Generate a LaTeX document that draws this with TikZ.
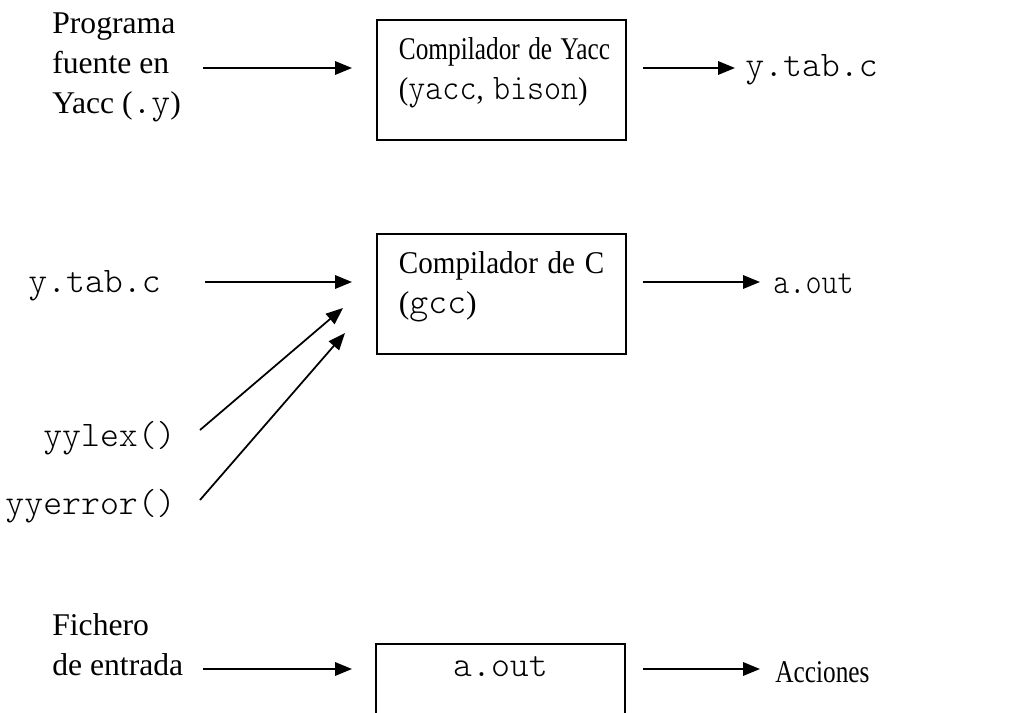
\documentclass[tikz,border=0pt]{standalone}
\usepackage{fontspec}
\setmainfont{Liberation Serif}
\newfontfamily\codfont{Latin Modern Mono Light}
\usetikzlibrary{arrows.meta}

% texto estrechado en horizontal
\newcommand{\estrecho}[2]{\scalebox{#1}[1]{#2}}
% codigo en maquina de escribir, con el ancho de Courier
\newcommand{\cod}[1]{{\fontsize{20.5}{22.76}\selectfont\codfont #1}}

\tikzset{
  every node/.style={font=\fontsize{18}{22.76}\selectfont},
  txt/.style={inner sep=0pt, align=left},
  box/.style={draw, line width=1.1pt, inner xsep=0.44cm, inner ysep=0pt,
    text width=4.1cm, minimum width=4.98cm, text height=0.8cm,
    text depth=1.6cm, align=left},
  binbox/.style={draw, line width=1.1pt, inner sep=0pt, text width=4.98cm,
    text height=0.66cm, text depth=2cm, align=center},
  arr/.style={-{Triangle[length=0.34cm,width=0.27cm]}, line width=1pt},
}

\begin{document}
\begin{tikzpicture}[x=0.02cm, y=-0.02cm]
\useasboundingbox (0,0) rectangle (1024,713);
\clip (0,0) rectangle (1024,713);

% Yacc
\node[txt, anchor=west] (fuente) at (52,67) {Programa\\fuente en\\Yacc (\cod{.y})};
\node[box, anchor=north west] (yacc) at (376,19)
  {\estrecho{0.8}{Compilador de Yacc}\\\estrecho{0.9}{(\cod{yacc}, \cod{bison})}};
\node[txt, anchor=west] (tabA) at (745,70) {\cod{y.tab.c}};

\coordinate (fuenteE) at (203,68);
\coordinate (yaccW) at (352,68);
\coordinate (yaccE) at (643,68);
\coordinate (tabAW) at (735,68);
\draw[arr] (fuenteE) -- (yaccW);
\draw[arr] (yaccE) -- (tabAW);

% C
\node[txt, anchor=west] (tabB) at (28,286) {\cod{y.tab.c}};
\node[txt, anchor=east] (lex) at (176,438) {\cod{yylex()}};
\node[txt, anchor=east] (err) at (176,506) {\cod{yyerror()}};
\node[box, anchor=north west] (gcc) at (376,233)
  {\estrecho{0.92}{Compilador de C}\\(\cod{gcc})};
\node[txt, anchor=west] (aoutA) at (773,284) {\estrecho{0.85}{\cod{a.out}}};

\coordinate (tabBE) at (205,282);
\coordinate (gccW) at (352,282);
\coordinate (lexE) at (200,430);
\coordinate (lexT) at (343,308);
\coordinate (errE) at (200,500);
\coordinate (errT) at (345,333);
\coordinate (gccE) at (643,282);
\coordinate (aoutAW) at (760,282);
\draw[arr] (tabBE) -- (gccW);
\draw[arr] (lexE) -- (lexT);
\draw[arr] (errE) -- (errT);
\draw[arr] (gccE) -- (aoutAW);

% ejecucion
\node[txt, anchor=west] (fich) at (52,645) {Fichero\\de entrada};
\node[binbox, anchor=north] (aoutB) at (500.5,643) {\cod{a.out}};
\node[txt, anchor=west] (acc) at (775,672) {\estrecho{0.8}{Acciones}};

\coordinate (fichE) at (203,669);
\coordinate (aoutBW) at (352,669);
\coordinate (aoutBE) at (643,669);
\coordinate (accW) at (760,669);
\draw[arr] (fichE) -- (aoutBW);
\draw[arr] (aoutBE) -- (accW);

\end{tikzpicture}
\end{document}
